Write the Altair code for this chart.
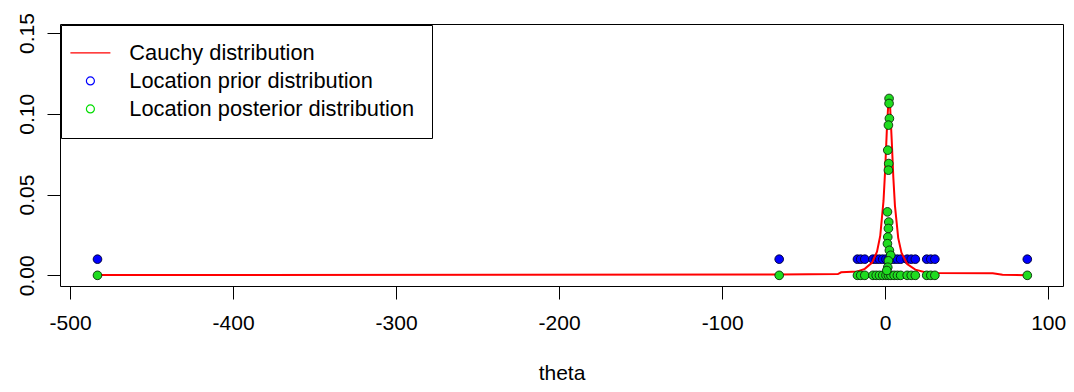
import altair as alt
import pandas as pd

# ---- data ----
series_labels = ["Cauchy distribution", "Location prior distribution", "Location posterior distribution"]
series_colors = ["#ff0000", "#0000ff", "#00dd00"]
legend_shapes = ["M-5,0L5,0", "circle", "circle"]

# observed locations (drawn as the prior row and the base of the posterior row)
obs_theta = [-483.2, -65.0, -17.0, -15.0, -12.5, -7.5, -5.5, -3.5, -1.5, 0.5, 2.0,
             3.5, 5.5, 7.5, 9.5, 13.5, 16.0, 18.5, 25.5, 28.0, 30.5, 87.2]
prior_level = 0.01
posterior_base = 0.0

# posterior points standing up around the peak
peak_theta = [2.4, 2.4, 2.6, 2.0, 1.6, 2.2, 2.0, 1.4, 2.2, 2.0, 1.6, 1.4, 2.6, 3.4, 2.0, 1.6, 1.0]
peak_density = [0.1095, 0.1064, 0.0971, 0.0930, 0.0775, 0.0692, 0.0651, 0.0393, 0.0330,
                0.0290, 0.0237, 0.0196, 0.0155, 0.0124, 0.0090, 0.0050, 0.0030]

# red curve vertices
curve_theta = [-483.2, -65.0, -29.0, -27.0, -17.0, -12.5, -8.0, -5.0, -3.0, -1.0, 0.0, 1.0,
               2.0, 2.4, 3.0, 4.0, 5.0, 6.0, 8.0, 10.0, 13.5, 18.5, 25.0, 30.5, 66.0, 72.0, 87.2]
curve_density = [0.0002, 0.0005, 0.0008, 0.0019, 0.0024, 0.0040, 0.0079, 0.0146, 0.0246,
                 0.0462, 0.0652, 0.0891, 0.1078, 0.1098, 0.1053, 0.0842, 0.0609, 0.0432,
                 0.0232, 0.0140, 0.0070, 0.0035, 0.0018, 0.0015, 0.0013, 0.0003, 0.0001]

x_ticks = [-500, -400, -300, -200, -100, 0, 100]
y_ticks = [0.0, 0.05, 0.10, 0.15]
x_domain = [-506.2, 109.1]
y_domain = [-0.0066, 0.1556]

# ---- tables ----
prior_df = pd.DataFrame({"theta": obs_theta, "density": [prior_level] * len(obs_theta)})
post_df = pd.DataFrame({
    "theta": obs_theta + peak_theta,
    "density": [posterior_base] * len(obs_theta) + peak_density,
})
curve_df = pd.DataFrame({"theta": curve_theta, "density": curve_density})
legend_df = pd.DataFrame({"label": series_labels})

FONT = "Liberation Sans"

x_enc = alt.X(
    "theta:Q",
    scale=alt.Scale(domain=x_domain, nice=False, zero=False),
    axis=alt.Axis(values=x_ticks, title="theta", labelExpr="datum.value + ''",
                  labelPadding=13, titleY=93, titleBaseline="alphabetic"),
)
y_enc = alt.Y(
    "density:Q",
    scale=alt.Scale(domain=y_domain, nice=False, zero=False),
    axis=alt.Axis(values=y_ticks, format=".2f", title=None, labelAngle=270,
                  labelAlign="center", labelBaseline="bottom", labelPadding=10),
)

prior_layer = alt.Chart(prior_df).mark_point(
    shape="circle", filled=True, fill="#0000ff", stroke="#000030",
    strokeWidth=0.9, size=75, opacity=1,
).encode(x=x_enc, y=y_enc)

curve_layer = alt.Chart(curve_df).mark_line(
    color="#ff0000", strokeWidth=2,
).encode(x=x_enc, y=y_enc)

post_layer = alt.Chart(post_df).mark_point(
    shape="circle", filled=True, fill="#1fdc1f", stroke="#0a2a0a",
    strokeWidth=0.9, size=75, opacity=1,
).encode(x=x_enc, y=y_enc)

leg = alt.Legend(
    title=None, orient="none", legendX=1, legendY=1, direction="vertical",
    symbolSize=64, symbolStrokeWidth=1.2, symbolOffset=1.5, labelOffset=28,
    labelFont=FONT, labelFontSize=21.8, labelColor="black", labelLimit=500,
    symbolOpacity=1, padding=17, rowPadding=5,
)

legend_layer = alt.Chart(legend_df).transform_filter("false").mark_point(
    filled=False,
).encode(
    color=alt.Color("label:N", scale=alt.Scale(domain=series_labels, range=series_colors), legend=leg),
    shape=alt.Shape("label:N", scale=alt.Scale(domain=series_labels, range=legend_shapes), legend=leg),
)

chart = alt.layer(prior_layer, curve_layer, post_layer, legend_layer).properties(
    width=1003, height=262,
    padding={"left": 52, "top": 16, "right": 3, "bottom": 98},
    autosize=alt.AutoSizeParams(type="none"),
    background="white",
).configure_view(
    stroke="black", strokeWidth=1,
).configure_axis(
    domain=False, grid=False, ticks=True, tickColor="black", tickSize=13, tickWidth=1,
    labelFont=FONT, labelFontSize=21, labelColor="black",
    titleFont=FONT, titleFontSize=21, titleFontWeight="normal", titleColor="black",
).configure_legend(
    strokeColor="black", strokeWidth=1, fillColor="white",
)

chart.save("out.html", embed_options={"renderer": "svg", "actions": False})
